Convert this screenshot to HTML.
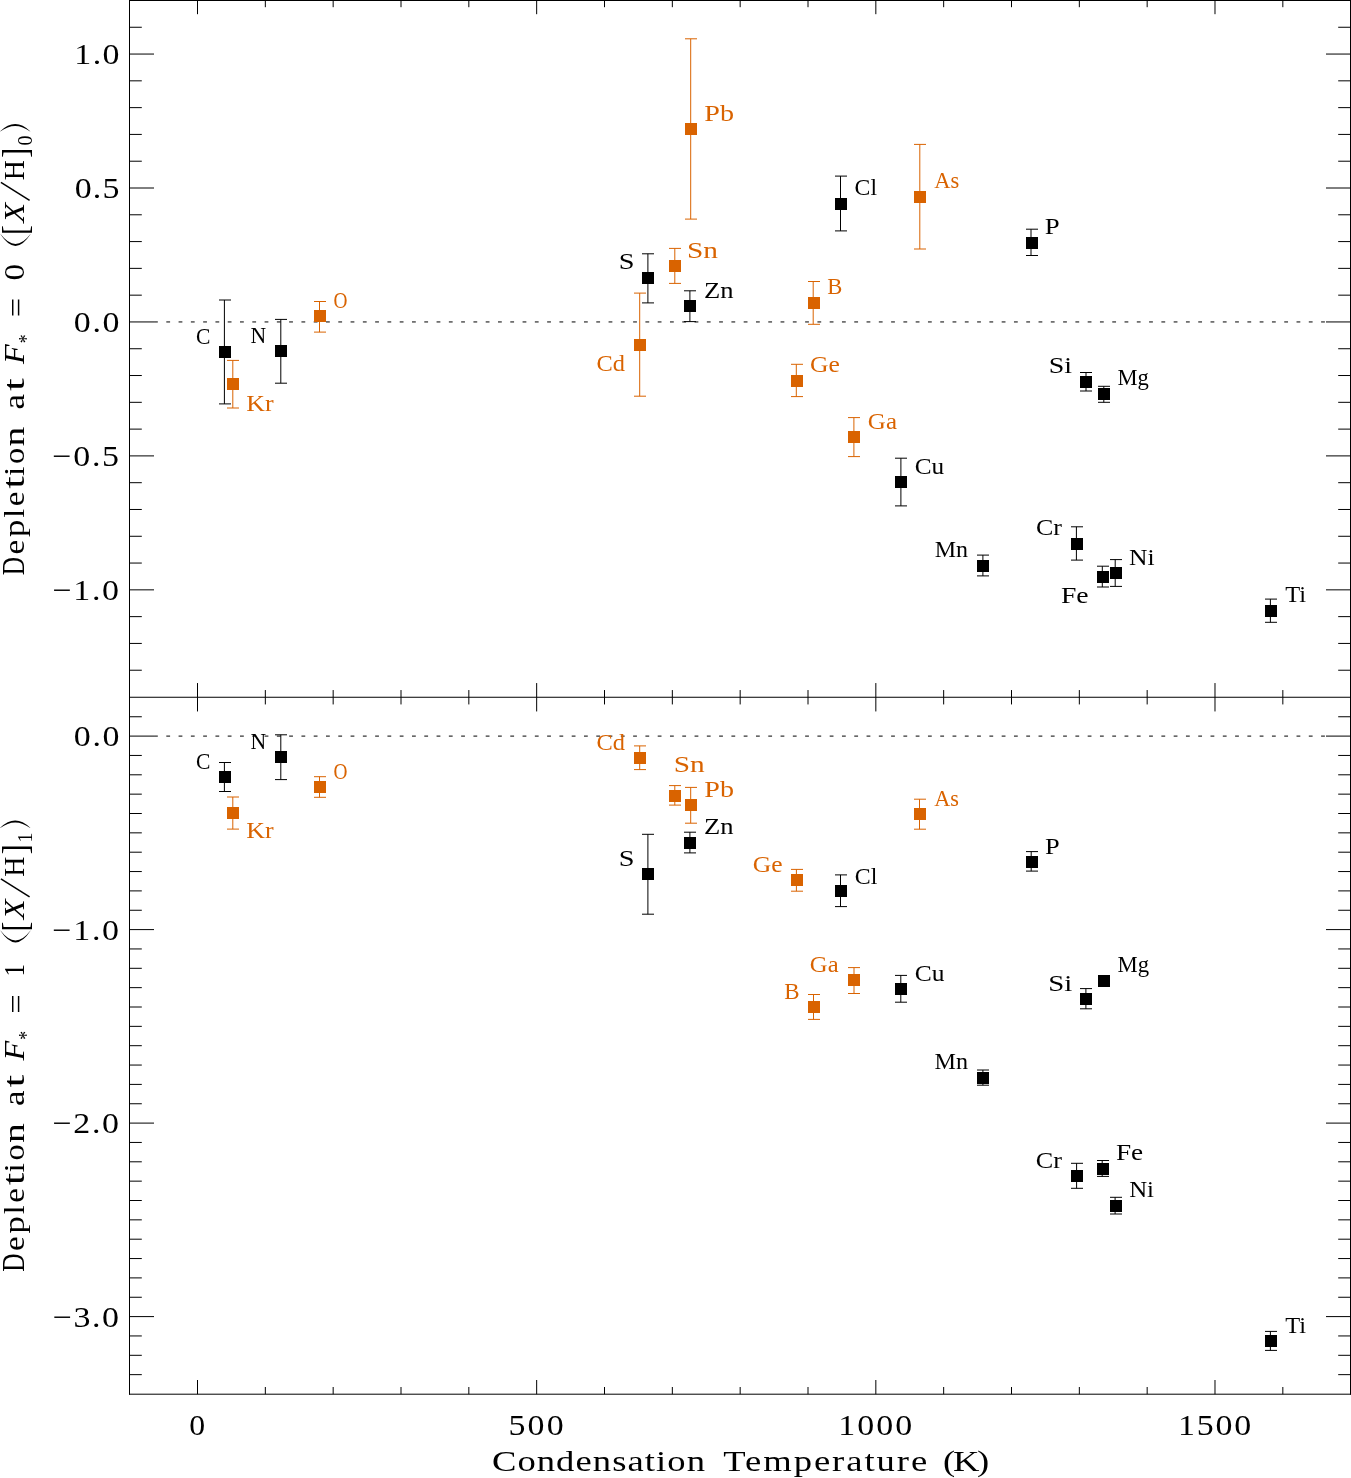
<!DOCTYPE html>
<html><head><meta charset="utf-8"><title>Depletion vs Condensation Temperature</title>
<style>html,body{margin:0;padding:0;background:#fff}svg{display:block}</style></head>
<body><svg width="1351" height="1478" viewBox="0 0 1351 1478" style="will-change:transform">
<rect width="1351" height="1478" fill="#fff"/>
<path d="M129.5 0V1394.7M1350.5 0V1394.7" stroke="#000" stroke-width="1"/><path d="M129 0.5H1351M129 697.25H1351M129 1394.2H1351" stroke="#000" stroke-width="1"/><path d="M129.5 670.22H141.80M1350.5 670.22H1338.20M129.5 643.43H141.80M1350.5 643.43H1338.20M129.5 616.64H141.80M1350.5 616.64H1338.20M129.5 589.85H154.00M1350.5 589.85H1326.00M129.5 563.06H141.80M1350.5 563.06H1338.20M129.5 536.27H141.80M1350.5 536.27H1338.20M129.5 509.48H141.80M1350.5 509.48H1338.20M129.5 482.69H141.80M1350.5 482.69H1338.20M129.5 455.90H154.00M1350.5 455.90H1326.00M129.5 429.11H141.80M1350.5 429.11H1338.20M129.5 402.32H141.80M1350.5 402.32H1338.20M129.5 375.53H141.80M1350.5 375.53H1338.20M129.5 348.74H141.80M1350.5 348.74H1338.20M129.5 321.95H154.00M1350.5 321.95H1326.00M129.5 295.16H141.80M1350.5 295.16H1338.20M129.5 268.37H141.80M1350.5 268.37H1338.20M129.5 241.58H141.80M1350.5 241.58H1338.20M129.5 214.79H141.80M1350.5 214.79H1338.20M129.5 188.00H154.00M1350.5 188.00H1326.00M129.5 161.21H141.80M1350.5 161.21H1338.20M129.5 134.42H141.80M1350.5 134.42H1338.20M129.5 107.63H141.80M1350.5 107.63H1338.20M129.5 80.84H141.80M1350.5 80.84H1338.20M129.5 54.05H154.00M1350.5 54.05H1326.00M129.5 27.26H141.80M1350.5 27.26H1338.20M129.5 1374.65H141.80M1350.5 1374.65H1338.20M129.5 1355.30H141.80M1350.5 1355.30H1338.20M129.5 1335.95H141.80M1350.5 1335.95H1338.20M129.5 1316.60H154.00M1350.5 1316.60H1326.00M129.5 1297.25H141.80M1350.5 1297.25H1338.20M129.5 1277.90H141.80M1350.5 1277.90H1338.20M129.5 1258.55H141.80M1350.5 1258.55H1338.20M129.5 1239.20H141.80M1350.5 1239.20H1338.20M129.5 1219.85H141.80M1350.5 1219.85H1338.20M129.5 1200.50H141.80M1350.5 1200.50H1338.20M129.5 1181.15H141.80M1350.5 1181.15H1338.20M129.5 1161.80H141.80M1350.5 1161.80H1338.20M129.5 1142.45H141.80M1350.5 1142.45H1338.20M129.5 1123.10H154.00M1350.5 1123.10H1326.00M129.5 1103.75H141.80M1350.5 1103.75H1338.20M129.5 1084.40H141.80M1350.5 1084.40H1338.20M129.5 1065.05H141.80M1350.5 1065.05H1338.20M129.5 1045.70H141.80M1350.5 1045.70H1338.20M129.5 1026.35H141.80M1350.5 1026.35H1338.20M129.5 1007.00H141.80M1350.5 1007.00H1338.20M129.5 987.65H141.80M1350.5 987.65H1338.20M129.5 968.30H141.80M1350.5 968.30H1338.20M129.5 948.95H141.80M1350.5 948.95H1338.20M129.5 929.60H154.00M1350.5 929.60H1326.00M129.5 910.25H141.80M1350.5 910.25H1338.20M129.5 890.90H141.80M1350.5 890.90H1338.20M129.5 871.55H141.80M1350.5 871.55H1338.20M129.5 852.20H141.80M1350.5 852.20H1338.20M129.5 832.85H141.80M1350.5 832.85H1338.20M129.5 813.50H141.80M1350.5 813.50H1338.20M129.5 794.15H141.80M1350.5 794.15H1338.20M129.5 774.80H141.80M1350.5 774.80H1338.20M129.5 755.45H141.80M1350.5 755.45H1338.20M129.5 736.10H154.00M1350.5 736.10H1326.00M129.5 716.75H141.80M1350.5 716.75H1338.20M197.50 0V14.20M197.50 697.25V683.05M197.50 697.25V711.45M197.50 1394.2V1380.00M265.33 0V7.20M265.33 697.25V690.05M265.33 697.25V704.45M265.33 1394.2V1387.00M333.17 0V7.20M333.17 697.25V690.05M333.17 697.25V704.45M333.17 1394.2V1387.00M401.00 0V7.20M401.00 697.25V690.05M401.00 697.25V704.45M401.00 1394.2V1387.00M468.83 0V7.20M468.83 697.25V690.05M468.83 697.25V704.45M468.83 1394.2V1387.00M536.66 0V14.20M536.66 697.25V683.05M536.66 697.25V711.45M536.66 1394.2V1380.00M604.50 0V7.20M604.50 697.25V690.05M604.50 697.25V704.45M604.50 1394.2V1387.00M672.33 0V7.20M672.33 697.25V690.05M672.33 697.25V704.45M672.33 1394.2V1387.00M740.16 0V7.20M740.16 697.25V690.05M740.16 697.25V704.45M740.16 1394.2V1387.00M808.00 0V7.20M808.00 697.25V690.05M808.00 697.25V704.45M808.00 1394.2V1387.00M875.83 0V14.20M875.83 697.25V683.05M875.83 697.25V711.45M875.83 1394.2V1380.00M943.66 0V7.20M943.66 697.25V690.05M943.66 697.25V704.45M943.66 1394.2V1387.00M1011.50 0V7.20M1011.50 697.25V690.05M1011.50 697.25V704.45M1011.50 1394.2V1387.00M1079.33 0V7.20M1079.33 697.25V690.05M1079.33 697.25V704.45M1079.33 1394.2V1387.00M1147.16 0V7.20M1147.16 697.25V690.05M1147.16 697.25V704.45M1147.16 1394.2V1387.00M1214.99 0V14.20M1214.99 697.25V683.05M1214.99 697.25V711.45M1214.99 1394.2V1380.00M1282.83 0V7.20M1282.83 697.25V690.05M1282.83 697.25V704.45M1282.83 1394.2V1387.00" stroke="#000" stroke-width="1"/><path d="M154.02 321.95H1326M154.02 736.10H1326" stroke="#000" stroke-width="1" stroke-dasharray="3.8 8.485"/><path d="M224.40 300.00V403.90M219 300.00H231M219 403.90H231" stroke="#000" stroke-width="1"/><rect x="219" y="346" width="12" height="12" fill="#000"/><path d="M232.80 360.40V408.00M227 360.40H239M227 408.00H239" stroke="#D96300" stroke-width="1"/><rect x="227" y="378" width="12" height="12" fill="#D96300"/><path d="M280.80 319.40V383.20M275 319.40H287M275 383.20H287" stroke="#000" stroke-width="1"/><rect x="275" y="345" width="12" height="12" fill="#000"/><path d="M319.50 301.50V332.10M314 301.50H326M314 332.10H326" stroke="#D96300" stroke-width="1"/><rect x="314" y="310" width="12" height="12" fill="#D96300"/><path d="M690.70 38.80V219.10M685 38.80H697M685 219.10H697" stroke="#D96300" stroke-width="1"/><rect x="685" y="123" width="12" height="12" fill="#D96300"/><path d="M647.90 253.80V302.90M642 253.80H654M642 302.90H654" stroke="#000" stroke-width="1"/><rect x="642" y="272" width="12" height="12" fill="#000"/><path d="M674.80 248.40V283.40M669 248.40H681M669 283.40H681" stroke="#D96300" stroke-width="1"/><rect x="669" y="260" width="12" height="12" fill="#D96300"/><path d="M689.90 290.80V321.60M684 290.80H696M684 321.60H696" stroke="#000" stroke-width="1"/><rect x="684" y="300" width="12" height="12" fill="#000"/><path d="M639.70 293.10V396.20M634 293.10H646M634 396.20H646" stroke="#D96300" stroke-width="1"/><rect x="634" y="339" width="12" height="12" fill="#D96300"/><path d="M840.50 176.10V230.90M835 176.10H847M835 230.90H847" stroke="#000" stroke-width="1"/><rect x="835" y="198" width="12" height="12" fill="#000"/><path d="M919.80 144.40V249.00M914 144.40H926M914 249.00H926" stroke="#D96300" stroke-width="1"/><rect x="914" y="191" width="12" height="12" fill="#D96300"/><path d="M813.20 281.50V324.30M808 281.50H820M808 324.30H820" stroke="#D96300" stroke-width="1"/><rect x="808" y="297" width="12" height="12" fill="#D96300"/><path d="M796.30 364.30V396.60M791 364.30H803M791 396.60H803" stroke="#D96300" stroke-width="1"/><rect x="791" y="375" width="12" height="12" fill="#D96300"/><path d="M853.90 417.60V456.60M848 417.60H860M848 456.60H860" stroke="#D96300" stroke-width="1"/><rect x="848" y="431" width="12" height="12" fill="#D96300"/><path d="M900.90 458.20V505.90M895 458.20H907M895 505.90H907" stroke="#000" stroke-width="1"/><rect x="895" y="476" width="12" height="12" fill="#000"/><path d="M1031.00 229.20V255.50M1026 229.20H1038M1026 255.50H1038" stroke="#000" stroke-width="1"/><rect x="1026" y="237" width="12" height="12" fill="#000"/><path d="M1086.00 372.50V391.00M1080 372.50H1092M1080 391.00H1092" stroke="#000" stroke-width="1"/><rect x="1080" y="376" width="12" height="12" fill="#000"/><path d="M1103.80 386.30V402.30M1098 386.30H1110M1098 402.30H1110" stroke="#000" stroke-width="1"/><rect x="1098" y="388" width="12" height="12" fill="#000"/><path d="M982.90 555.10V575.90M977 555.10H989M977 575.90H989" stroke="#000" stroke-width="1"/><rect x="977" y="560" width="12" height="12" fill="#000"/><path d="M1076.40 526.80V560.10M1071 526.80H1083M1071 560.10H1083" stroke="#000" stroke-width="1"/><rect x="1071" y="538" width="12" height="12" fill="#000"/><path d="M1102.30 566.20V587.00M1097 566.20H1109M1097 587.00H1109" stroke="#000" stroke-width="1"/><rect x="1097" y="571" width="12" height="12" fill="#000"/><path d="M1115.20 559.60V586.40M1110 559.60H1122M1110 586.40H1122" stroke="#000" stroke-width="1"/><rect x="1110" y="567" width="12" height="12" fill="#000"/><path d="M1270.40 599.10V622.30M1265 599.10H1277M1265 622.30H1277" stroke="#000" stroke-width="1"/><rect x="1265" y="605" width="12" height="12" fill="#000"/><path d="M224.40 762.50V791.50M219 762.50H231M219 791.50H231" stroke="#000" stroke-width="1"/><rect x="219" y="771" width="12" height="12" fill="#000"/><path d="M280.80 734.80V779.60M275 734.80H287M275 779.60H287" stroke="#000" stroke-width="1"/><rect x="275" y="751" width="12" height="12" fill="#000"/><path d="M319.50 776.70V797.30M314 776.70H326M314 797.30H326" stroke="#D96300" stroke-width="1"/><rect x="314" y="781" width="12" height="12" fill="#D96300"/><path d="M232.80 797.00V829.10M227 797.00H239M227 829.10H239" stroke="#D96300" stroke-width="1"/><rect x="227" y="807" width="12" height="12" fill="#D96300"/><path d="M639.70 745.90V769.60M634 745.90H646M634 769.60H646" stroke="#D96300" stroke-width="1"/><rect x="634" y="752" width="12" height="12" fill="#D96300"/><path d="M674.80 785.60V805.10M669 785.60H681M669 805.10H681" stroke="#D96300" stroke-width="1"/><rect x="669" y="790" width="12" height="12" fill="#D96300"/><path d="M690.70 787.40V823.20M685 787.40H697M685 823.20H697" stroke="#D96300" stroke-width="1"/><rect x="685" y="799" width="12" height="12" fill="#D96300"/><path d="M689.90 832.20V852.90M684 832.20H696M684 852.90H696" stroke="#000" stroke-width="1"/><rect x="684" y="837" width="12" height="12" fill="#000"/><path d="M647.90 834.30V914.20M642 834.30H654M642 914.20H654" stroke="#000" stroke-width="1"/><rect x="642" y="868" width="12" height="12" fill="#000"/><path d="M919.50 799.20V829.20M914 799.20H926M914 829.20H926" stroke="#D96300" stroke-width="1"/><rect x="914" y="808" width="12" height="12" fill="#D96300"/><path d="M796.40 869.40V891.20M791 869.40H803M791 891.20H803" stroke="#D96300" stroke-width="1"/><rect x="791" y="874" width="12" height="12" fill="#D96300"/><path d="M840.50 874.90V906.60M835 874.90H847M835 906.60H847" stroke="#000" stroke-width="1"/><rect x="835" y="885" width="12" height="12" fill="#000"/><path d="M854.00 967.60V993.50M848 967.60H860M848 993.50H860" stroke="#D96300" stroke-width="1"/><rect x="848" y="974" width="12" height="12" fill="#D96300"/><path d="M900.80 975.40V1002.20M895 975.40H907M895 1002.20H907" stroke="#000" stroke-width="1"/><rect x="895" y="983" width="12" height="12" fill="#000"/><path d="M813.50 994.50V1019.40M808 994.50H820M808 1019.40H820" stroke="#D96300" stroke-width="1"/><rect x="808" y="1001" width="12" height="12" fill="#D96300"/><path d="M1031.20 851.60V871.10M1026 851.60H1038M1026 871.10H1038" stroke="#000" stroke-width="1"/><rect x="1026" y="856" width="12" height="12" fill="#000"/><path d="M1085.90 988.60V1008.80M1080 988.60H1092M1080 1008.80H1092" stroke="#000" stroke-width="1"/><rect x="1080" y="993" width="12" height="12" fill="#000"/><rect x="1098" y="975" width="12" height="12" fill="#000"/><path d="M982.90 1070.00V1085.20M977 1070.00H989M977 1085.20H989" stroke="#000" stroke-width="1"/><rect x="977" y="1072" width="12" height="12" fill="#000"/><path d="M1076.60 1163.30V1188.30M1071 1163.30H1083M1071 1188.30H1083" stroke="#000" stroke-width="1"/><rect x="1071" y="1170" width="12" height="12" fill="#000"/><path d="M1102.20 1160.50V1176.40M1097 1160.50H1109M1097 1176.40H1109" stroke="#000" stroke-width="1"/><rect x="1097" y="1163" width="12" height="12" fill="#000"/><path d="M1115.10 1197.30V1214.00M1110 1197.30H1122M1110 1214.00H1122" stroke="#000" stroke-width="1"/><rect x="1110" y="1200" width="12" height="12" fill="#000"/><path d="M1270.40 1331.40V1350.40M1265 1331.40H1277M1265 1350.40H1277" stroke="#000" stroke-width="1"/><rect x="1265" y="1335" width="12" height="12" fill="#000"/><path d="M0.9 182.40L29.6 200.30" stroke="#000" stroke-width="1.5"/><path d="M0.5 234.30Q15.5 257.50 30.5 234.30L30.5 234.00Q15.5 253.80 0.5 234.00Z" fill="#000"/><path d="M0.2 131.20Q15.2 116.60 30.2 131.20L30.2 131.50Q15.2 120.30 0.2 131.50Z" fill="#000"/><path d="M0.9 878.90L29.6 896.80" stroke="#000" stroke-width="1.5"/><path d="M0.5 930.80Q15.5 954.00 30.5 930.80L30.5 930.50Q15.5 950.30 0.5 930.50Z" fill="#000"/><path d="M0.2 827.70Q15.2 813.10 30.2 827.70L30.2 828.00Q15.2 816.80 0.2 828.00Z" fill="#000"/>
<text transform="translate(196.10 343.50) scale(0.900 1.000)" style="font-family:'Liberation Serif', serif;font-size:24.0px;" fill="#000">C</text><text transform="translate(246.32 410.50) scale(1.079 1.000)" style="font-family:'Liberation Serif', serif;font-size:24.0px;" fill="#D96300">Kr</text><text transform="translate(250.49 342.65) scale(0.906 1.000)" style="font-family:'Liberation Serif', serif;font-size:24.0px;" fill="#000">N</text><text transform="translate(333.59 308.15) scale(0.806 1.000)" style="font-family:'Liberation Serif', serif;font-size:24.0px;" fill="#D96300">O</text><text transform="translate(704.33 121.10) scale(1.171 1.000)" style="font-family:'Liberation Serif', serif;font-size:24.0px;" fill="#D96300">Pb</text><text transform="translate(618.74 269.45) scale(1.180 1.000)" style="font-family:'Liberation Serif', serif;font-size:24.0px;" fill="#000">S</text><text transform="translate(687.06 257.70) scale(1.222 1.000)" style="font-family:'Liberation Serif', serif;font-size:24.0px;" fill="#D96300">Sn</text><text transform="translate(704.09 297.60) scale(1.108 1.000)" style="font-family:'Liberation Serif', serif;font-size:24.0px;" fill="#000">Zn</text><text transform="translate(596.39 371.15) scale(1.015 1.000)" style="font-family:'Liberation Serif', serif;font-size:24.0px;" fill="#D96300">Cd</text><text transform="translate(854.61 195.35) scale(0.986 1.000)" style="font-family:'Liberation Serif', serif;font-size:24.0px;" fill="#000">Cl</text><text transform="translate(934.30 188.25) scale(0.938 1.000)" style="font-family:'Liberation Serif', serif;font-size:24.0px;" fill="#D96300">As</text><text transform="translate(827.26 294.45) scale(0.943 1.000)" style="font-family:'Liberation Serif', serif;font-size:24.0px;" fill="#D96300">B</text><text transform="translate(810.03 372.25) scale(1.065 1.000)" style="font-family:'Liberation Serif', serif;font-size:24.0px;" fill="#D96300">Ge</text><text transform="translate(867.86 428.60) scale(1.041 1.000)" style="font-family:'Liberation Serif', serif;font-size:24.0px;" fill="#D96300">Ga</text><text transform="translate(914.75 473.70) scale(1.052 1.000)" style="font-family:'Liberation Serif', serif;font-size:24.0px;" fill="#000">Cu</text><text transform="translate(1044.68 233.85) scale(1.117 1.000)" style="font-family:'Liberation Serif', serif;font-size:24.0px;" fill="#000">P</text><text transform="translate(1048.67 373.05) scale(1.165 1.000)" style="font-family:'Liberation Serif', serif;font-size:24.0px;" fill="#000">Si</text><text transform="translate(1117.46 384.90) scale(0.941 1.000)" style="font-family:'Liberation Serif', serif;font-size:24.0px;" fill="#000">Mg</text><text x="934.70" y="557.15" style="font-family:'Liberation Serif', serif;font-size:24.0px;" fill="#000">Mn</text><text transform="translate(1035.92 535.45) scale(1.083 1.000)" style="font-family:'Liberation Serif', serif;font-size:24.0px;" fill="#000">Cr</text><text transform="translate(1060.95 603.25) scale(1.155 1.000)" style="font-family:'Liberation Serif', serif;font-size:24.0px;" fill="#000">Fe</text><text transform="translate(1128.93 564.70) scale(1.068 1.000)" style="font-family:'Liberation Serif', serif;font-size:24.0px;" fill="#000">Ni</text><text transform="translate(1285.20 602.05) scale(1.020 1.000)" style="font-family:'Liberation Serif', serif;font-size:24.0px;" fill="#000">Ti</text><text transform="translate(196.10 769.15) scale(0.900 1.000)" style="font-family:'Liberation Serif', serif;font-size:24.0px;" fill="#000">C</text><text transform="translate(250.49 748.60) scale(0.906 1.000)" style="font-family:'Liberation Serif', serif;font-size:24.0px;" fill="#000">N</text><text transform="translate(333.59 778.95) scale(0.806 1.000)" style="font-family:'Liberation Serif', serif;font-size:24.0px;" fill="#D96300">O</text><text transform="translate(246.32 837.55) scale(1.079 1.000)" style="font-family:'Liberation Serif', serif;font-size:24.0px;" fill="#D96300">Kr</text><text transform="translate(596.39 750.10) scale(1.015 1.000)" style="font-family:'Liberation Serif', serif;font-size:24.0px;" fill="#D96300">Cd</text><text transform="translate(673.76 771.70) scale(1.222 1.000)" style="font-family:'Liberation Serif', serif;font-size:24.0px;" fill="#D96300">Sn</text><text transform="translate(704.33 797.20) scale(1.171 1.000)" style="font-family:'Liberation Serif', serif;font-size:24.0px;" fill="#D96300">Pb</text><text transform="translate(704.09 834.30) scale(1.108 1.000)" style="font-family:'Liberation Serif', serif;font-size:24.0px;" fill="#000">Zn</text><text transform="translate(618.74 866.10) scale(1.180 1.000)" style="font-family:'Liberation Serif', serif;font-size:24.0px;" fill="#000">S</text><text transform="translate(934.30 806.25) scale(0.927 1.000)" style="font-family:'Liberation Serif', serif;font-size:24.0px;" fill="#D96300">As</text><text transform="translate(752.83 871.90) scale(1.065 1.000)" style="font-family:'Liberation Serif', serif;font-size:24.0px;" fill="#D96300">Ge</text><text transform="translate(854.70 883.50) scale(0.995 1.000)" style="font-family:'Liberation Serif', serif;font-size:24.0px;" fill="#000">Cl</text><text transform="translate(809.87 972.25) scale(1.026 1.000)" style="font-family:'Liberation Serif', serif;font-size:24.0px;" fill="#D96300">Ga</text><text transform="translate(914.74 980.90) scale(1.063 1.000)" style="font-family:'Liberation Serif', serif;font-size:24.0px;" fill="#000">Cu</text><text transform="translate(784.34 998.90) scale(0.957 1.000)" style="font-family:'Liberation Serif', serif;font-size:24.0px;" fill="#D96300">B</text><text transform="translate(1044.90 853.55) scale(1.100 1.000)" style="font-family:'Liberation Serif', serif;font-size:24.0px;" fill="#000">P</text><text transform="translate(1048.30 990.55) scale(1.200 1.000)" style="font-family:'Liberation Serif', serif;font-size:24.0px;" fill="#000">Si</text><text transform="translate(1117.55 972.30) scale(0.947 1.000)" style="font-family:'Liberation Serif', serif;font-size:24.0px;" fill="#000">Mg</text><text transform="translate(934.49 1069.45) scale(1.006 1.000)" style="font-family:'Liberation Serif', serif;font-size:24.0px;" fill="#000">Mn</text><text transform="translate(1035.81 1167.75) scale(1.091 1.000)" style="font-family:'Liberation Serif', serif;font-size:24.0px;" fill="#000">Cr</text><text transform="translate(1115.96 1160.40) scale(1.136 1.000)" style="font-family:'Liberation Serif', serif;font-size:24.0px;" fill="#000">Fe</text><text transform="translate(1129.16 1197.35) scale(1.036 1.000)" style="font-family:'Liberation Serif', serif;font-size:24.0px;" fill="#000">Ni</text><text transform="translate(1285.20 1332.60) scale(1.020 1.000)" style="font-family:'Liberation Serif', serif;font-size:24.0px;" fill="#000">Ti</text><text transform="translate(74.35 64.25) scale(1.150 1.000)" style="font-family:'Liberation Serif', serif;font-size:29.5px;letter-spacing:1.20px;" fill="#000">1.0</text><text transform="translate(74.75 198.20) scale(1.150 1.000)" style="font-family:'Liberation Serif', serif;font-size:29.5px;letter-spacing:1.02px;" fill="#000">0.5</text><text transform="translate(73.85 332.15) scale(1.150 1.000)" style="font-family:'Liberation Serif', serif;font-size:29.5px;letter-spacing:1.41px;" fill="#000">0.0</text><text transform="translate(52.35 466.10) scale(1.150 1.000)" style="font-family:'Liberation Serif', serif;font-size:29.5px;letter-spacing:1.51px;" fill="#000">−0.5</text><text transform="translate(52.55 600.05) scale(1.150 1.000)" style="font-family:'Liberation Serif', serif;font-size:29.5px;letter-spacing:1.45px;" fill="#000">−1.0</text><text transform="translate(73.85 746.30) scale(1.150 1.000)" style="font-family:'Liberation Serif', serif;font-size:29.5px;letter-spacing:1.41px;" fill="#000">0.0</text><text transform="translate(52.35 939.80) scale(1.150 1.000)" style="font-family:'Liberation Serif', serif;font-size:29.5px;letter-spacing:1.51px;" fill="#000">−1.0</text><text transform="translate(52.55 1133.30) scale(1.150 1.000)" style="font-family:'Liberation Serif', serif;font-size:29.5px;letter-spacing:1.45px;" fill="#000">−2.0</text><text transform="translate(52.65 1326.80) scale(1.150 1.000)" style="font-family:'Liberation Serif', serif;font-size:29.5px;letter-spacing:1.42px;" fill="#000">−3.0</text><text transform="translate(189.32 1434.85) scale(1.077 1.000)" style="font-family:'Liberation Serif', serif;font-size:29.5px;" fill="#000">0</text><text transform="translate(508.50 1434.85) scale(1.150 1.000)" style="font-family:'Liberation Serif', serif;font-size:29.5px;letter-spacing:1.89px;" fill="#000">500</text><text transform="translate(838.35 1434.85) scale(1.150 1.000)" style="font-family:'Liberation Serif', serif;font-size:29.5px;letter-spacing:1.75px;" fill="#000">1000</text><text transform="translate(1178.05 1434.85) scale(1.150 1.000)" style="font-family:'Liberation Serif', serif;font-size:29.5px;letter-spacing:1.52px;" fill="#000">1500</text><text transform="translate(491.90 1471.40) scale(1.200 1.000)" style="font-family:'Liberation Serif', serif;font-size:30.5px;letter-spacing:0.90px;" fill="#000">Condensation</text><text transform="translate(723.30 1471.40) scale(1.200 1.000)" style="font-family:'Liberation Serif', serif;font-size:30.5px;letter-spacing:1.63px;" fill="#000">Temperature</text><text transform="translate(943.10 1471.40) scale(1.200 1.000)" style="font-family:'Liberation Serif', serif;font-size:30.5px;letter-spacing:-1.96px;" fill="#000">(K)</text><g transform="translate(0 600.00) rotate(-90)"><text transform="translate(24.86 23.90) scale(0.835 1.000)" style="font-family:'Liberation Serif', serif;font-size:30.5px;" fill="#000">D</text></g><g transform="translate(0 600.00) rotate(-90)"><text transform="translate(45.61 23.90) scale(1.092 1.000)" style="font-family:'Liberation Serif', serif;font-size:30.5px;" fill="#000">e</text></g><g transform="translate(0 600.00) rotate(-90)"><text transform="translate(63.10 23.90) scale(1.136 1.000)" style="font-family:'Liberation Serif', serif;font-size:30.5px;" fill="#000">p</text></g><g transform="translate(0 600.00) rotate(-90)"><text transform="translate(82.16 23.90) scale(1.043 1.000)" style="font-family:'Liberation Serif', serif;font-size:30.5px;" fill="#000">l</text></g><g transform="translate(0 600.00) rotate(-90)"><text transform="translate(93.71 23.90) scale(1.092 1.000)" style="font-family:'Liberation Serif', serif;font-size:30.5px;" fill="#000">e</text></g><g transform="translate(0 600.00) rotate(-90)"><text transform="translate(111.30 23.90) scale(1.488 1.000)" style="font-family:'Liberation Serif', serif;font-size:30.5px;" fill="#000">t</text></g><g transform="translate(0 600.00) rotate(-90)"><text transform="translate(123.99 23.90) scale(1.114 1.000)" style="font-family:'Liberation Serif', serif;font-size:30.5px;" fill="#000">i</text></g><g transform="translate(0 600.00) rotate(-90)"><text transform="translate(135.94 23.90) scale(1.062 1.000)" style="font-family:'Liberation Serif', serif;font-size:30.5px;" fill="#000">o</text></g><g transform="translate(0 600.00) rotate(-90)"><text transform="translate(153.50 23.90) scale(1.300 1.000)" style="font-family:'Liberation Serif', serif;font-size:30.5px;" fill="#000">n</text></g><g transform="translate(0 600.00) rotate(-90)"><text transform="translate(190.45 23.90) scale(1.150 1.000)" style="font-family:'Liberation Serif', serif;font-size:30.5px;" fill="#000">a</text></g><g transform="translate(0 600.00) rotate(-90)"><text transform="translate(209.10 23.90) scale(1.500 1.000)" style="font-family:'Liberation Serif', serif;font-size:30.5px;" fill="#000">t</text></g><g transform="translate(0 600.00) rotate(-90)"><text transform="translate(236.00 23.90) scale(1.053 1.000)" style="font-family:'Liberation Serif', serif;font-size:30.5px;font-style:italic;" fill="#000">F</text></g><g transform="translate(0 600.00) rotate(-90)"><text transform="translate(282.87 25.60) scale(1.133 1.000)" style="font-family:'Liberation Serif', serif;font-size:30.5px;" fill="#000">=</text></g><g transform="translate(0 600.00) rotate(-90)"><text transform="translate(319.51 23.90) scale(1.092 1.000)" style="font-family:'Liberation Serif', serif;font-size:30.5px;" fill="#000">0</text></g><g transform="translate(0 600.00) rotate(-90)"><text transform="translate(365.06 27.41) scale(0.971 1.148)" style="font-family:'Liberation Serif', serif;font-size:30.5px;" fill="#000">[</text></g><g transform="translate(0 600.00) rotate(-90)"><text transform="translate(377.37 23.90) scale(1.067 1.000)" style="font-family:'Liberation Serif', serif;font-size:30.5px;font-style:italic;" fill="#000">X</text></g><g transform="translate(0 600.00) rotate(-90)"><text transform="translate(419.79 23.90) scale(0.910 1.000)" style="font-family:'Liberation Serif', serif;font-size:30.5px;" fill="#000">H</text></g><g transform="translate(0 600.00) rotate(-90)"><text transform="translate(442.13 27.41) scale(0.971 1.148)" style="font-family:'Liberation Serif', serif;font-size:30.5px;" fill="#000">]</text></g><g transform="translate(0 600.00) rotate(-90)"><text transform="translate(256.81 32.50) scale(0.888 1.000)" style="font-family:'Liberation Serif', serif;font-size:20px;" fill="#000">*</text></g><g transform="translate(0 600.00) rotate(-90)"><text x="454.40" y="32.35" style="font-family:'Liberation Serif', serif;font-size:20px;" fill="#000">0</text></g><g transform="translate(0 1296.50) rotate(-90)"><text transform="translate(24.86 23.90) scale(0.835 1.000)" style="font-family:'Liberation Serif', serif;font-size:30.5px;" fill="#000">D</text></g><g transform="translate(0 1296.50) rotate(-90)"><text transform="translate(45.61 23.90) scale(1.092 1.000)" style="font-family:'Liberation Serif', serif;font-size:30.5px;" fill="#000">e</text></g><g transform="translate(0 1296.50) rotate(-90)"><text transform="translate(63.10 23.90) scale(1.136 1.000)" style="font-family:'Liberation Serif', serif;font-size:30.5px;" fill="#000">p</text></g><g transform="translate(0 1296.50) rotate(-90)"><text transform="translate(82.16 23.90) scale(1.043 1.000)" style="font-family:'Liberation Serif', serif;font-size:30.5px;" fill="#000">l</text></g><g transform="translate(0 1296.50) rotate(-90)"><text transform="translate(93.71 23.90) scale(1.092 1.000)" style="font-family:'Liberation Serif', serif;font-size:30.5px;" fill="#000">e</text></g><g transform="translate(0 1296.50) rotate(-90)"><text transform="translate(111.30 23.90) scale(1.488 1.000)" style="font-family:'Liberation Serif', serif;font-size:30.5px;" fill="#000">t</text></g><g transform="translate(0 1296.50) rotate(-90)"><text transform="translate(123.99 23.90) scale(1.114 1.000)" style="font-family:'Liberation Serif', serif;font-size:30.5px;" fill="#000">i</text></g><g transform="translate(0 1296.50) rotate(-90)"><text transform="translate(135.94 23.90) scale(1.062 1.000)" style="font-family:'Liberation Serif', serif;font-size:30.5px;" fill="#000">o</text></g><g transform="translate(0 1296.50) rotate(-90)"><text transform="translate(153.50 23.90) scale(1.300 1.000)" style="font-family:'Liberation Serif', serif;font-size:30.5px;" fill="#000">n</text></g><g transform="translate(0 1296.50) rotate(-90)"><text transform="translate(190.45 23.90) scale(1.150 1.000)" style="font-family:'Liberation Serif', serif;font-size:30.5px;" fill="#000">a</text></g><g transform="translate(0 1296.50) rotate(-90)"><text transform="translate(209.10 23.90) scale(1.500 1.000)" style="font-family:'Liberation Serif', serif;font-size:30.5px;" fill="#000">t</text></g><g transform="translate(0 1296.50) rotate(-90)"><text transform="translate(236.00 23.90) scale(1.053 1.000)" style="font-family:'Liberation Serif', serif;font-size:30.5px;font-style:italic;" fill="#000">F</text></g><g transform="translate(0 1296.50) rotate(-90)"><text transform="translate(282.87 25.60) scale(1.133 1.000)" style="font-family:'Liberation Serif', serif;font-size:30.5px;" fill="#000">=</text></g><g transform="translate(0 1296.50) rotate(-90)"><text transform="translate(320.12 23.90) scale(0.827 1.000)" style="font-family:'Liberation Serif', serif;font-size:30.5px;" fill="#000">1</text></g><g transform="translate(0 1296.50) rotate(-90)"><text transform="translate(365.06 27.41) scale(0.971 1.148)" style="font-family:'Liberation Serif', serif;font-size:30.5px;" fill="#000">[</text></g><g transform="translate(0 1296.50) rotate(-90)"><text transform="translate(377.37 23.90) scale(1.067 1.000)" style="font-family:'Liberation Serif', serif;font-size:30.5px;font-style:italic;" fill="#000">X</text></g><g transform="translate(0 1296.50) rotate(-90)"><text transform="translate(419.79 23.90) scale(0.910 1.000)" style="font-family:'Liberation Serif', serif;font-size:30.5px;" fill="#000">H</text></g><g transform="translate(0 1296.50) rotate(-90)"><text transform="translate(442.13 27.41) scale(0.971 1.148)" style="font-family:'Liberation Serif', serif;font-size:30.5px;" fill="#000">]</text></g><g transform="translate(0 1296.50) rotate(-90)"><text transform="translate(256.81 32.50) scale(0.888 1.000)" style="font-family:'Liberation Serif', serif;font-size:20px;" fill="#000">*</text></g><g transform="translate(0 1296.50) rotate(-90)"><text x="454.00" y="32.35" style="font-family:'Liberation Serif', serif;font-size:20px;" fill="#000">1</text></g>
</svg></body></html>
